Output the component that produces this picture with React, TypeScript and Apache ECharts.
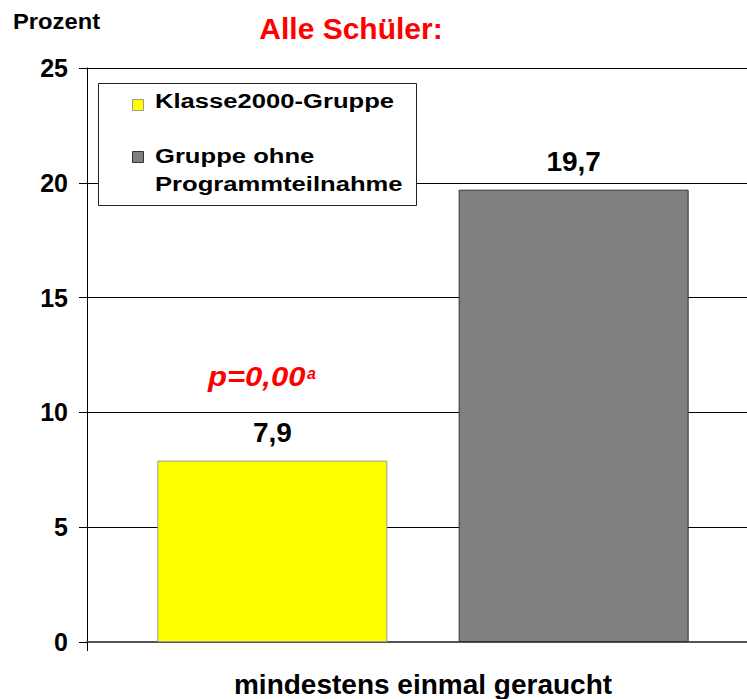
import React, { useEffect, useRef } from "react";
import * as echarts from "echarts";

const categories = ["mindestens einmal geraucht"];
const seriesNames = ["Klasse2000-Gruppe", "Gruppe ohne\nProgrammteilnahme"];
const klasseValues = [7.9];
const ohneValues = [19.7];
const seriesColors = ["#FFFF00", "#808080"];
const seriesBorders = ["#9a9a9a", "#333333"];
const yMin = 0;
const yMax = 25;
const yStep = 5;
const titleText = "Alle Schüler:";
const yAxisTitle = "Prozent";
const pValueText = "p=0,00";
const pValueSup = "a";

const FONT = "'Liberation Sans', Arial, sans-serif";

const fmt = (v: number) => String(v).replace(".", ",");

export default function App() {
  const ref = useRef<HTMLDivElement>(null);
  useEffect(() => {
    if (!ref.current) return;
    const chart = echarts.init(ref.current, undefined, { renderer: "svg" });
    const [l1, l2] = [seriesNames[0].split("\n"), seriesNames[1].split("\n")];
    const legendTextStyle = (text: string, x: number, y: number) => ({
      type: "text",
      x,
      y,
      scaleX: 1.28,
      z: 101,
      style: {
        text,
        fill: "#000",
        font: `bold 20px ${FONT}`,
        textAlign: "left",
        textVerticalAlign: "middle",
      },
    });
    const valueLabel = {
      show: true,
      position: "top",
      distance: 14,
      formatter: (p: any) => fmt(p.value),
      fontSize: 28,
      fontWeight: "bold",
      fontFamily: FONT,
      color: "#000",
    };
    chart.setOption({
      animation: false,
      backgroundColor: "#fff",
      grid: {
        left: 87,
        top: 68,
        right: -12,
        bottom: 57,
        containLabel: false,
        outerBoundsMode: "none",
      },
      xAxis: {
        type: "category",
        data: categories,
        axisTick: { show: false },
        axisLine: { show: true, lineStyle: { color: "#555", width: 2 } },
        axisLabel: {
          fontSize: 28,
          fontWeight: "bold",
          fontFamily: FONT,
          color: "#000",
          margin: 28,
        },
      },
      yAxis: {
        type: "value",
        min: yMin,
        max: yMax,
        interval: yStep,
        axisLine: { show: true, lineStyle: { color: "#000", width: 1 } },
        axisTick: { show: true, length: 8, lineStyle: { color: "#000" } },
        splitLine: { show: true, lineStyle: { color: "#000", width: 1 } },
        axisLabel: {
          fontSize: 25,
          fontWeight: "bold",
          fontFamily: FONT,
          color: "#000",
          margin: 19,
        },
      },
      series: [
        {
          name: seriesNames[0],
          type: "bar",
          data: klasseValues,
          barWidth: 230,
          barGap: "31%",
          itemStyle: { color: seriesColors[0], borderColor: seriesBorders[0], borderWidth: 1 },
          label: valueLabel,
        },
        {
          name: seriesNames[1],
          type: "bar",
          data: ohneValues,
          barWidth: 230,
          barGap: "31%",
          itemStyle: { color: seriesColors[1], borderColor: seriesBorders[1], borderWidth: 1 },
          label: valueLabel,
        },
      ],
      graphic: [
        {
          type: "line",
          z: 100,
          shape: { x1: 87.5, y1: 642, x2: 87.5, y2: 651 },
          style: { stroke: "#000", lineWidth: 1 },
        },
        {
          type: "text",
          x: 13,
          y: 21,
          scaleX: 1.08,
          z: 100,
          style: {
            text: yAxisTitle,
            fill: "#000",
            font: `bold 22px ${FONT}`,
            textAlign: "left",
            textVerticalAlign: "middle",
          },
        },
        {
          type: "text",
          x: 351,
          y: 28,
          z: 100,
          style: {
            text: titleText,
            fill: "#FF0000",
            font: `bold 30px ${FONT}`,
            textAlign: "center",
            textVerticalAlign: "middle",
          },
        },
        {
          type: "rect",
          z: 100,
          shape: { x: 98.5, y: 83.5, width: 318, height: 122 },
          style: { fill: "#fff", stroke: "#222", lineWidth: 1 },
        },
        {
          type: "rect",
          z: 101,
          shape: { x: 132.5, y: 99.5, width: 11, height: 11 },
          style: { fill: seriesColors[0], stroke: seriesBorders[0], lineWidth: 1 },
        },
        {
          type: "rect",
          z: 101,
          shape: { x: 132.5, y: 151.5, width: 11, height: 11 },
          style: { fill: seriesColors[1], stroke: seriesBorders[1], lineWidth: 1 },
        },
        legendTextStyle(l1[0], 155, 101),
        legendTextStyle(l2[0], 155, 156),
        legendTextStyle(l2[1], 155, 184),
        {
          type: "text",
          x: 208,
          y: 377,
          scaleX: 1.15,
          z: 100,
          style: {
            text: pValueText,
            fill: "#FF0000",
            font: `italic bold 27px ${FONT}`,
            textAlign: "left",
            textVerticalAlign: "middle",
          },
        },
        {
          type: "text",
          x: 307,
          y: 373,
          z: 100,
          style: {
            text: pValueSup,
            fill: "#FF0000",
            font: `italic bold 16px ${FONT}`,
            textAlign: "left",
            textVerticalAlign: "middle",
          },
        },
      ],
    });
    return () => chart.dispose();
  }, []);
  return (
    <div
      ref={ref}
      style={{ position: "fixed", left: 0, top: 0, width: 747, height: 699, background: "#fff" }}
    />
  );
}
